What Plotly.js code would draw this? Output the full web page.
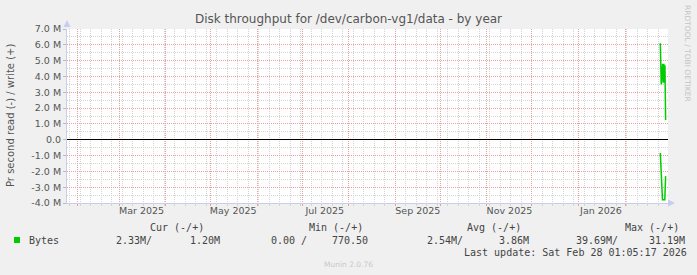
<!DOCTYPE html>
<html>
<head>
<meta charset="utf-8">
<script src="https://cdn.plot.ly/plotly-3.0.1.min.js"></script>
<style>
  html, body { margin: 0; padding: 0; background: #f0f0f0; }
  #chart { width: 697px; height: 275px; }
</style>
</head>
<body>
<div id="chart"></div>
<script>
// ---------------- data ----------------
const writeTimes = ['2026-02-24 12:00', '2026-02-25 03:00', '2026-02-26 01:00', '2026-02-26 10:00',
                    '2026-02-26 20:00', '2026-02-27 06:00', '2026-02-27 14:00', '2026-02-28 01:00'];
const writeValues = [6.1e6, 3.5e6, 4.8e6, 3.6e6, 4.8e6, 3.6e6, 4.7e6, 1.25e6];

const readTimes = ['2026-02-24 12:00', '2026-02-25 04:00', '2026-02-25 23:00', '2026-02-27 12:00', '2026-02-28 01:00'];
const readValues = [0.84e6, 2.2e6, 3.8e6, 3.8e6, 2.3e6];   // drawn negated (read below zero)

const monthStarts = ['2025-02-01', '2025-03-01', '2025-04-01', '2025-05-01', '2025-06-01', '2025-07-01',
                     '2025-08-01', '2025-09-01', '2025-10-01', '2025-11-01', '2025-12-01', '2026-01-01', '2026-02-01'];
const labelDates = ['2025-03-16', '2025-05-16', '2025-07-16', '2025-09-16', '2025-11-16', '2026-01-16'];
const labelTexts = ['Mar 2025', 'May 2025', 'Jul 2025', 'Sep 2025', 'Nov 2025', 'Jan 2026'];

const yTickVals = [-4e6, -3e6, -2e6, -1e6, 0, 1e6, 2e6, 3e6, 4e6, 5e6, 6e6, 7e6];
const yTickText = ['-4.0 M', '-3.0 M', '-2.0 M', '-1.0 M', '0.0', '1.0 M', '2.0 M', '3.0 M', '4.0 M', '5.0 M', '6.0 M', '7.0 M'];

const seriesName = 'Bytes';
const statHeaders = ['Cur (-/+)', 'Min (-/+)', 'Avg (-/+)', 'Max (-/+)'];
const statRead = ['2.33M/', '0.00 /', '2.54M/', '39.69M/'];
const statWrite = ['1.20M', '770.50', '3.86M', '31.19M'];
const lastUpdate = 'Last update: Sat Feb 28 01:05:17 2026';

// ---------------- layout helpers ----------------
const W = 697, H = 275;
const L = 67, R = 668, T = 29, B = 203;
const px = x => (x - L) / (R - L);
const py = y => (B - y) / (B - T);

const GREEN = '#00cc00';
const MAJ = '#e8a0a0';
const MIN = '#d4d4d4';
const AXC = '#c8ccee';
const TXT = '#555555';
const mono = 'DejaVu Sans Mono';
const sans = 'DejaVu Sans';

const traces = [
  { x: writeTimes, y: writeValues, type: 'scatter', mode: 'lines', xaxis: 'x', yaxis: 'y',
    line: { color: GREEN, width: 1.5 }, hoverinfo: 'skip', showlegend: false },
  { x: readTimes, y: readValues.map(v => -v), type: 'scatter', mode: 'lines', xaxis: 'x', yaxis: 'y',
    line: { color: GREEN, width: 1.5 }, hoverinfo: 'skip', showlegend: false },
  { x: [], y: [], type: 'scatter', mode: 'lines', xaxis: 'x2', yaxis: 'y', showlegend: false, hoverinfo: 'skip' }
];

const xr = ['2025-01-25 08:00', '2026-03-01 15:00'];

const annotations = [];
function txt(text, x, y, opts) {
  annotations.push(Object.assign({
    text: text, xref: 'paper', yref: 'paper', x: px(x), y: py(y),
    xanchor: 'left', yanchor: 'middle', showarrow: false,
    font: { family: mono, size: 10, color: '#444' }
  }, opts || {}));
}
const hdrX = [148, 307, 465, 623];
const readX = [114, 269, 425, 574];
const writeX = [188, 330, 497, 647];
statHeaders.forEach((h, i) => txt(h, hdrX[i], 227));
statRead.forEach((s, i) => txt(s, readX[i], 240));
statWrite.forEach((s, i) => txt(s, writeX[i], 240));
txt(seriesName, 27, 240);
txt(lastUpdate, 462, 252);
txt('Munin 2.0.76', 348, 264, { xanchor: 'center', font: { family: sans, size: 7.5, color: '#c8c8c8' } });
txt('RRDTOOL / TOBI OETIKER', 688, 53, { xanchor: 'center', textangle: 90, font: { family: sans, size: 7.5, color: '#c4c4c4' } });
txt('Pr second read (-) / write (+)', 10, 116, { xanchor: 'center', textangle: -90, font: { family: sans, size: 10, color: TXT } });

const shapes = [
  // legend swatch
  { type: 'rect', xref: 'paper', yref: 'paper', x0: px(14), x1: px(20), y0: py(243), y1: py(237),
    fillcolor: GREEN, line: { width: 0 } },
  // axis arrows
  { type: 'path', xref: 'paper', yref: 'paper',
    path: `M ${px(63.5)} ${py(27)} L ${px(70.5)} ${py(27)} L ${px(67)} ${py(20)} Z`,
    fillcolor: AXC, line: { width: 0 } },
  { type: 'path', xref: 'paper', yref: 'paper',
    path: `M ${px(668)} ${py(199.5)} L ${px(668)} ${py(206.5)} L ${px(675)} ${py(203)} Z`,
    fillcolor: AXC, line: { width: 0 } }
];

const layout = {
  width: W, height: H,
  margin: { l: L, r: W - R, t: T, b: H - B, pad: 0 },
  paper_bgcolor: '#f0f0f0',
  plot_bgcolor: '#ffffff',
  showlegend: false,
  title: { text: 'Disk throughput for /dev/carbon-vg1/data - by year',
           font: { family: sans, size: 12, color: TXT },
           xref: 'container', yref: 'container', x: 0.5, y: 1 - 19 / H, xanchor: 'center', yanchor: 'middle' },
  xaxis: {
    type: 'date', range: xr, fixedrange: true,
    tickmode: 'array', tickvals: monthStarts, showticklabels: false,
    showgrid: true, gridcolor: MAJ, griddash: '1px,1px', gridwidth: 1,
    ticks: 'outside', ticklen: 2, tickcolor: MAJ,
    minor: { tickmode: 'linear', tick0: '2025-01-27', dtick: 7 * 86400000,
             showgrid: true, gridcolor: MIN, griddash: '1px,1px', ticks: 'outside', ticklen: 2, tickcolor: MIN },
    showline: true, linecolor: AXC, linewidth: 1, zeroline: false
  },
  xaxis2: {
    type: 'date', range: xr, overlaying: 'x', anchor: 'y', side: 'bottom', fixedrange: true,
    tickmode: 'array', tickvals: labelDates, ticktext: labelTexts,
    showgrid: false, ticks: '', zeroline: false, showline: false,
    tickfont: { family: sans, size: 9.5, color: TXT }
  },
  yaxis: {
    range: [-4e6, 7e6], fixedrange: true,
    tickmode: 'array', tickvals: yTickVals, ticktext: yTickText,
    tickfont: { family: sans, size: 9.5, color: TXT },
    showgrid: true, gridcolor: MAJ, griddash: '1px,1px', gridwidth: 1,
    ticks: 'outside', ticklen: 3, tickcolor: '#bbbbbb',
    minor: { tickmode: 'linear', tick0: 0, dtick: 5e5, showgrid: true, gridcolor: MIN, griddash: '1px,1px' },
    zeroline: true, zerolinecolor: '#000000', zerolinewidth: 1.5,
    showline: true, linecolor: AXC, linewidth: 1
  },
  annotations: annotations,
  shapes: shapes
};

Plotly.newPlot('chart', traces, layout, { staticPlot: true, displayModeBar: false });
</script>
</body>
</html>
